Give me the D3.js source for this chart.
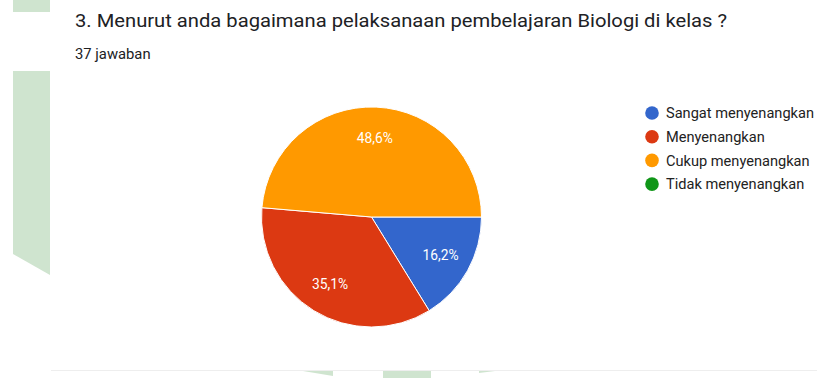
<!DOCTYPE html>
<html>
<head>
<meta charset="utf-8">
<script src="https://cdn.jsdelivr.net/npm/d3@7"></script>
<style>
  body { margin: 0; background: #fff; }
  svg { display: block; font-family: Roboto, "Noto Sans", sans-serif; }
</style>
</head>
<body>
<div id="chart"></div>
<script>
var title = "3. Menurut anda bagaimana pelaksanaan pembelajaran Biologi di kelas ?";
var subtitle = "37 jawaban";
var categories = ["Sangat menyenangkan", "Menyenangkan", "Cukup menyenangkan", "Tidak menyenangkan"];
var counts = [6, 13, 18, 0];
var colors = ["#3366cc", "#dc3912", "#ff9900", "#109618"];

var width = 817, height = 378;
var cx = 371.5, cy = 217, radius = 110;

var total = d3.sum(counts);
var data = categories.map(function(c, i) { return {name: c, value: counts[i], color: colors[i]}; });

var svg = d3.select("#chart").append("svg")
    .attr("width", width)
    .attr("height", height);

// page decoration (green side band + bottom bits)
var deco = svg.append("g").attr("fill", "#cfe4cf");
deco.append("rect").attr("x", 13).attr("y", 0).attr("width", 37).attr("height", 12);
deco.append("path").attr("d", "M13,71 L50,71 L50,275 L13,254 Z");
deco.append("path").attr("d", "M303,371 L333,371 L333,376 Z");
deco.append("rect").attr("x", 383).attr("y", 371).attr("width", 48).attr("height", 7);
deco.append("path").attr("d", "M479,371 L495,371 L479,373 Z");
svg.append("line")
    .attr("x1", 51).attr("x2", width).attr("y1", 370.5).attr("y2", 370.5)
    .attr("stroke", "#eeeeee").attr("stroke-width", 1);

svg.append("text")
    .attr("x", 75).attr("y", 26.5)
    .attr("fill", "#202124")
    .attr("textLength", 652)
    .attr("lengthAdjust", "spacingAndGlyphs")
    .style("font-size", "18.5px")
    .text(title);

svg.append("text")
    .attr("x", 75).attr("y", 58.5)
    .attr("fill", "#202124")
    .style("font-size", "14.8px")
    .text(subtitle);

var pie = d3.pie()
    .sort(null)
    .value(function(d) { return d.value; })
    .startAngle(Math.PI / 2)
    .endAngle(Math.PI / 2 + 2 * Math.PI);

var arc = d3.arc().innerRadius(0).outerRadius(radius);
var labelArc = d3.arc().innerRadius(79).outerRadius(79);

var g = svg.append("g").attr("transform", "translate(" + cx + "," + cy + ")");
var arcs = pie(data);

g.selectAll("path.slice")
  .data(arcs.filter(function(d) { return d.data.value > 0; }))
  .enter().append("path")
    .attr("class", "slice")
    .attr("d", arc)
    .attr("fill", function(d) { return d.data.color; })
    .attr("stroke", "#fff")
    .attr("stroke-width", 1);

g.selectAll("text.pct")
  .data(arcs.filter(function(d) { return d.data.value > 0; }))
  .enter().append("text")
    .attr("class", "pct")
    .attr("transform", function(d) { return "translate(" + labelArc.centroid(d) + ")"; })
    .attr("text-anchor", "middle")
    .attr("dy", "0.35em")
    .attr("fill", "#ffffff")
    .style("font-size", "13.8px")
    .text(function(d) { return (d.data.value / total * 100).toFixed(1).replace(".", ",") + "%"; });

var legend = svg.append("g").attr("transform", "translate(652,113)");
var item = legend.selectAll("g.item")
  .data(data)
  .enter().append("g")
    .attr("class", "item")
    .attr("transform", function(d, i) { return "translate(0," + (i * 23.7) + ")"; });

item.append("circle")
    .attr("r", 6.8)
    .attr("fill", function(d) { return d.color; });

item.append("text")
    .attr("x", 14)
    .attr("dy", "0.35em")
    .attr("fill", "#222")
    .style("font-size", "14.6px")
    .text(function(d) { return d.name; });
</script>
</body>
</html>
